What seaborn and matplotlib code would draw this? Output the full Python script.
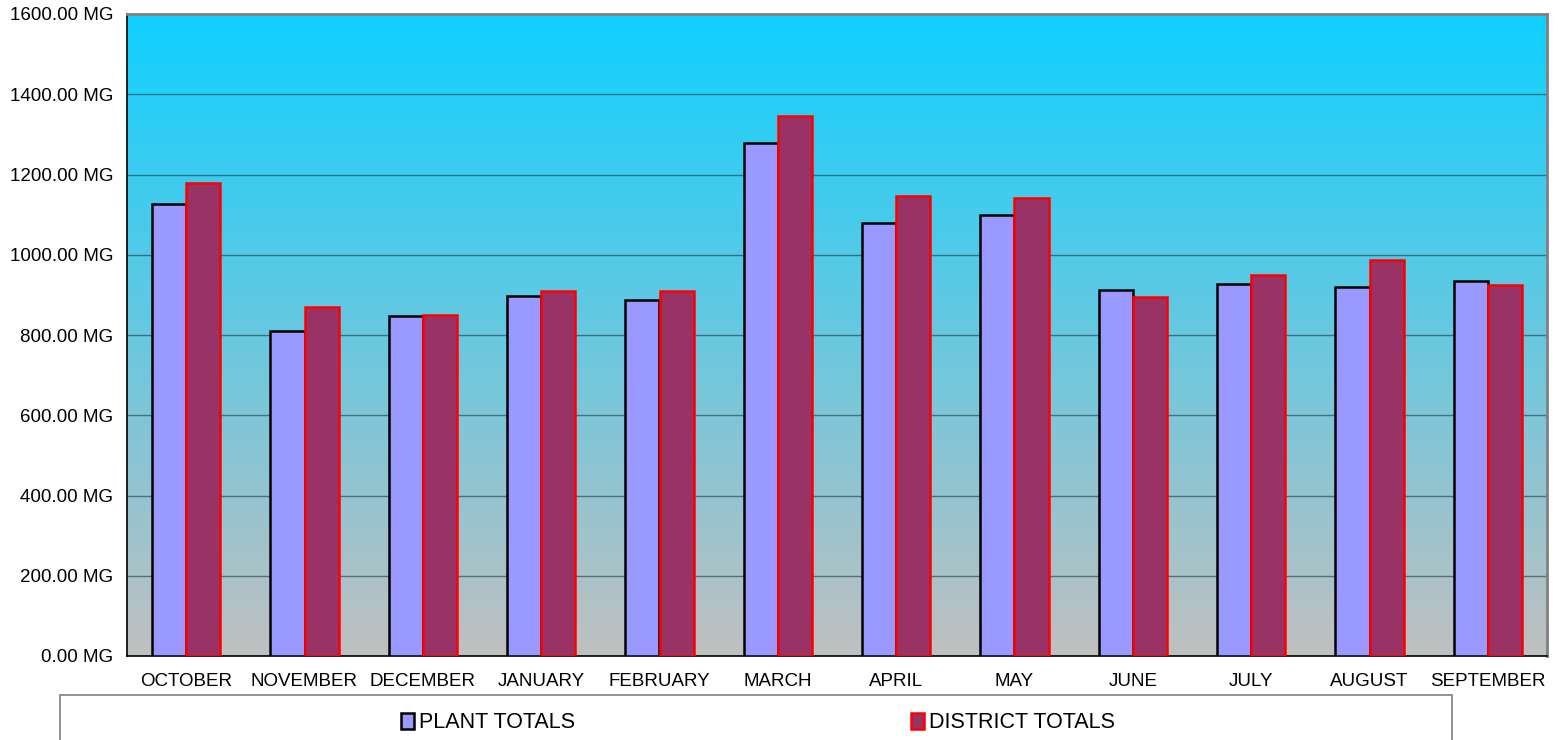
import matplotlib
matplotlib.use('Agg')
import matplotlib.pyplot as plt
from matplotlib.patches import Patch, Rectangle
import numpy as np
import pandas as pd
import seaborn as sns

# Monthly totals (MG)
months = ['OCTOBER', 'NOVEMBER', 'DECEMBER', 'JANUARY', 'FEBRUARY', 'MARCH',
          'APRIL', 'MAY', 'JUNE', 'JULY', 'AUGUST', 'SEPTEMBER']
plant_totals = [1126, 810, 847, 897, 887, 1278, 1079, 1100, 912, 928, 919, 934]
district_totals = [1179, 870, 849, 910, 910, 1346, 1147, 1141, 895, 950, 986, 924]
series_names = ['PLANT TOTALS', 'DISTRICT TOTALS']
y_ticks = [0, 200, 400, 600, 800, 1000, 1200, 1400, 1600]

df = pd.DataFrame({
    'month': months * 2,
    'value': plant_totals + district_totals,
    'series': [series_names[0]] * len(months) + [series_names[1]] * len(months),
})

sns.set_style('white')
plt.rcParams['font.family'] = ['Liberation Sans', 'DejaVu Sans']
plt.rcParams['text.color'] = 'black'
plt.rcParams['xtick.labelcolor'] = 'black'
plt.rcParams['ytick.labelcolor'] = 'black'

fig = plt.figure(figsize=(15.6, 7.4), dpi=100)
ax = fig.add_axes([127 / 1560, 84 / 740, 1420 / 1560, 642 / 740])

# gradient background: cyan at top fading to gray at bottom
top = np.array([0x10, 0xD0, 0xFF]) / 255
bot = np.array([0xC0, 0xC0, 0xC0]) / 255
t = np.linspace(0, 1, 256)[:, None]
grad = (top * (1 - t) + bot * t)[:, None, :]
ax.imshow(grad, aspect='auto', extent=(-0.5, 11.5, 0, 1600), zorder=0)

palette = {'PLANT TOTALS': '#9999FF', 'DISTRICT TOTALS': '#993366'}
sns.barplot(data=df, x='month', y='value', hue='series', order=months,
            hue_order=series_names, palette=palette, width=0.575,
            saturation=1, ax=ax, zorder=3, legend=False)

edges = ['black', '#FF0000']
for cont, ec in zip(ax.containers, edges):
    for p in cont.patches:
        p.set_edgecolor(ec)
        p.set_linewidth(1.8)

ax.set_xlim(-0.5, 11.5)
ax.set_ylim(0, 1600)
ax.set_yticks(y_ticks)
ax.set_yticklabels([f'{v:.2f} MG' for v in y_ticks], fontsize=13.5)
ax.set_xlabel('')
ax.set_ylabel('')

ax.set_xticks(range(len(months)))
ax.set_xticklabels(months, fontsize=13.5)
ax.set_xticks(np.arange(-0.5, 12, 1), minor=True)
ax.tick_params(axis='x', which='major', length=0, pad=12)
ax.tick_params(axis='x', which='minor', length=5, width=1, color='#333333', direction='out')
ax.tick_params(axis='y', length=5, width=1, color='#555555', direction='out', pad=5)

for v in y_ticks[1:-1]:
    ax.axhline(v, color='#1a3a4a', alpha=0.6, linewidth=1, zorder=1)

for side in ['top', 'right']:
    ax.spines[side].set_color('#808080')
    ax.spines[side].set_linewidth(2)
for side in ['left', 'bottom']:
    ax.spines[side].set_color('black')
    ax.spines[side].set_linewidth(1.2)

# legend box at the bottom
fig.patches.append(Rectangle((60 / 1560, -0.05), 1392 / 1560, 0.05 + 45 / 740,
                             transform=fig.transFigure, fill=False,
                             edgecolor='#808080', linewidth=1.2))
handles = [Patch(facecolor=palette[n], edgecolor=ec, linewidth=1.8)
           for n, ec in zip(series_names, edges)]
fig.legend(handles, series_names, loc='center', bbox_to_anchor=(758 / 1560, 17 / 740),
           ncol=2, frameon=False, fontsize=15.5, handlelength=0.6, handleheight=0.75,
           handletextpad=0.25, columnspacing=15.6)

fig.savefig('out.png', dpi=100)
